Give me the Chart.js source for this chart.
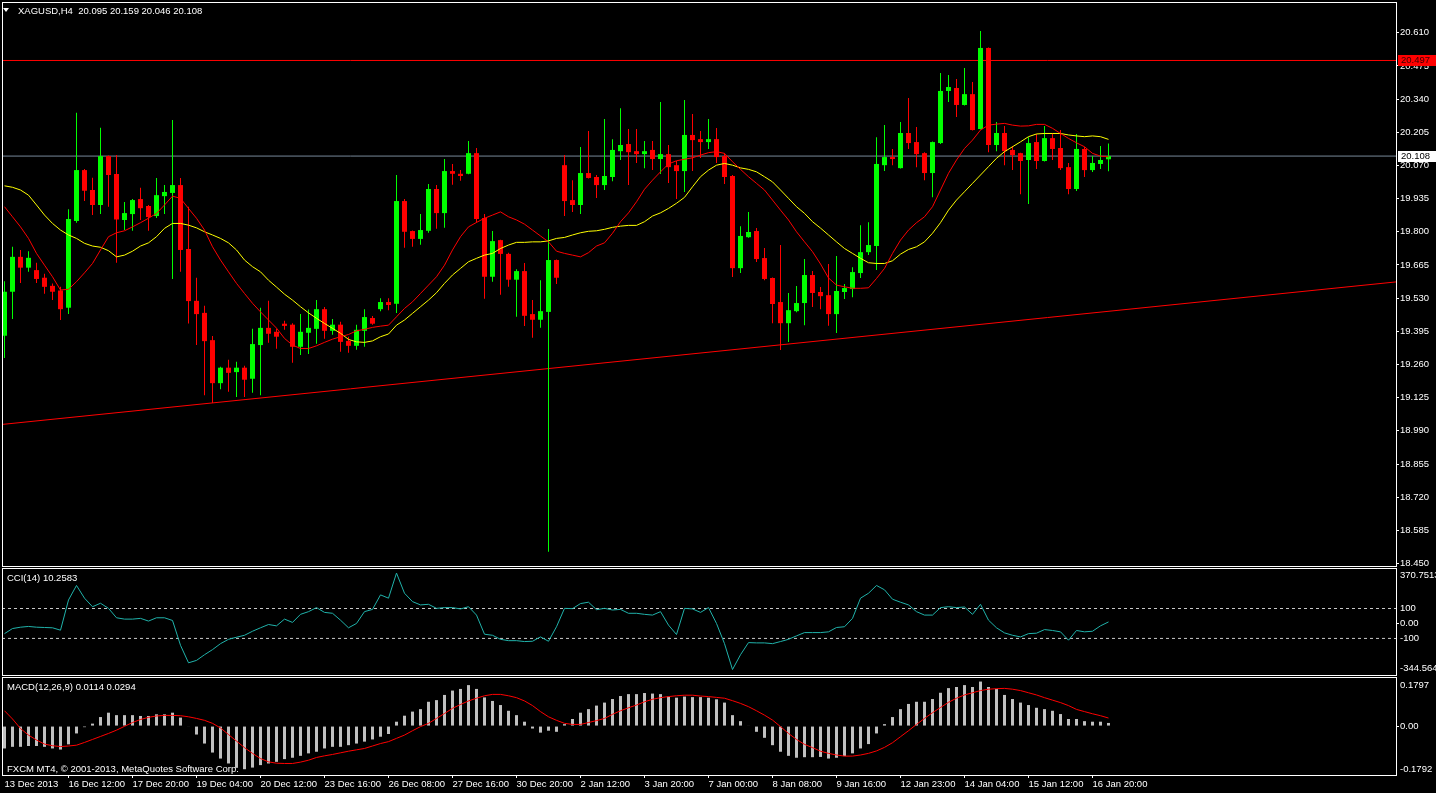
<!DOCTYPE html>
<html>
<head>
<meta charset="utf-8">
<title>XAGUSD,H4</title>
<script src="https://cdn.jsdelivr.net/npm/chart.js@4.4.1/dist/chart.umd.min.js"></script>
<style>
  html, body { margin: 0; padding: 0; background: #000; }
  body { position: relative; width: 1436px; height: 793px; overflow: hidden; font-family: "Liberation Sans", Arial, sans-serif; }
  canvas { position: absolute; left: 0; }
  .caption { position: absolute; color: #fff; font-size: 9.5px; line-height: 12px; white-space: pre; z-index: 2; }
  .arrow { position: absolute; left: 3px; top: 8px; width: 0; height: 0; border-left: 3px solid transparent; border-right: 3px solid transparent; border-top: 4px solid #fff; z-index: 2; }
</style>
</head>
<body>
<canvas id="priceChart" width="1436" height="568" style="top:0"></canvas>
<canvas id="cciChart" width="1436" height="111" style="top:566px"></canvas>
<canvas id="macdChart" width="1436" height="118" style="top:675px"></canvas>
<div class="arrow"></div>
<div class="caption" style="left:18px;top:5px">XAGUSD,H4  20.095 20.159 20.046 20.108</div>
<div class="caption" style="left:7px;top:572px">CCI(14) 10.2583</div>
<div class="caption" style="left:7px;top:681px">MACD(12,26,9) 0.0114 0.0294</div>
<div class="caption" style="left:7px;top:763px">FXCM MT4, © 2001-2013, MetaQuotes Software Corp.</div>
<script>
// H4 candles, one per bar index
const openPrices = [
  19.377,19.556,19.698,19.654,19.644,19.613,19.580,19.561,19.491,19.844,
  20.051,19.970,19.909,20.108,20.035,19.848,19.872,19.933,19.905,19.864,
  19.945,19.958,19.990,19.730,19.519,19.470,19.359,19.184,19.247,19.229,
  19.247,19.202,19.339,19.409,19.393,19.426,19.422,19.332,19.389,19.405,
  19.485,19.397,19.422,19.356,19.336,19.397,19.449,19.485,19.514,19.507,
  19.925,19.803,19.771,19.804,19.974,19.876,20.047,20.036,20.036,20.120,
  19.856,19.617,19.766,19.710,19.605,19.640,19.465,19.442,19.474,19.685,
  20.071,19.929,19.909,20.039,20.023,19.990,20.023,20.128,20.157,20.128,
  20.116,20.133,20.096,20.116,20.071,20.047,20.194,20.177,20.165,20.177,
  20.108,20.027,19.652,19.778,19.803,19.693,19.612,19.514,19.428,19.477,
  19.510,19.624,19.555,19.542,19.465,19.555,19.567,19.632,19.717,19.742,
  20.071,20.104,20.059,20.202,20.165,20.120,20.039,20.161,20.373,20.385,
  20.316,20.360,20.218,20.548,20.153,20.202,20.133,20.120,20.092,20.165,
  20.088,20.181,20.141,20.063,19.974,20.137,20.051,20.076,20.095
];
const highPrices = [
  19.599,19.739,19.726,19.721,19.674,19.629,19.590,19.576,19.892,20.284,
  20.055,20.020,20.223,20.110,20.112,19.921,19.933,19.979,19.909,20.019,
  19.990,20.255,20.019,19.902,19.613,19.499,19.376,19.251,19.279,19.271,
  19.255,19.405,19.491,19.519,19.405,19.438,19.428,19.465,19.484,19.522,
  19.494,19.445,19.434,19.373,19.422,19.485,19.457,19.530,19.530,20.031,
  19.933,19.805,19.872,19.994,19.990,20.096,20.076,20.051,20.169,20.141,
  19.872,19.803,19.768,19.715,19.648,19.673,19.522,19.603,19.811,19.687,
  20.112,20.010,20.145,20.210,20.031,20.259,20.177,20.303,20.218,20.218,
  20.169,20.169,20.328,20.153,20.088,20.336,20.279,20.210,20.259,20.222,
  20.120,20.031,19.823,19.880,19.815,19.734,19.614,19.746,19.551,19.579,
  19.689,19.640,19.575,19.669,19.701,19.587,19.656,19.827,19.839,20.185,
  20.234,20.137,20.247,20.344,20.226,20.124,20.167,20.446,20.438,20.422,
  20.466,20.409,20.617,20.550,20.247,20.230,20.149,20.122,20.185,20.198,
  20.230,20.202,20.214,20.080,20.198,20.145,20.108,20.149,20.159
];
const lowPrices = [
  19.286,19.445,19.592,19.637,19.592,19.548,19.522,19.441,19.465,19.837,
  19.925,19.868,19.872,19.902,19.674,19.807,19.804,19.848,19.804,19.856,
  19.872,19.608,19.637,19.427,19.339,19.135,19.103,19.159,19.149,19.128,
  19.128,19.145,19.135,19.348,19.324,19.401,19.267,19.299,19.303,19.344,
  19.365,19.381,19.312,19.308,19.320,19.332,19.422,19.477,19.481,19.470,
  19.735,19.739,19.747,19.796,19.812,19.816,19.991,20.008,20.034,19.837,
  19.527,19.597,19.544,19.576,19.454,19.417,19.369,19.409,18.498,19.588,
  19.864,19.880,19.872,20.017,19.937,19.970,20.006,20.092,19.990,20.080,
  20.059,20.051,20.035,19.998,19.933,19.962,20.047,20.100,20.137,20.080,
  19.994,19.616,19.632,19.776,19.677,19.603,19.428,19.319,19.351,19.473,
  19.420,19.494,19.485,19.418,19.388,19.526,19.534,19.612,19.705,19.644,
  20.047,20.071,20.057,20.137,20.063,20.010,19.941,20.157,20.328,20.267,
  20.314,20.212,20.216,20.124,20.128,20.071,20.051,19.953,19.913,20.055,
  20.086,20.092,20.051,19.953,19.966,20.023,20.043,20.055,20.046
];
const closePrices = [
  19.556,19.698,19.654,19.694,19.608,19.576,19.556,19.485,19.852,20.051,
  19.967,19.909,20.108,20.031,19.850,19.876,19.929,19.896,19.860,19.949,
  19.962,19.990,19.726,19.518,19.465,19.355,19.184,19.247,19.226,19.247,
  19.198,19.343,19.409,19.385,19.373,19.417,19.332,19.393,19.409,19.485,
  19.397,19.422,19.352,19.336,19.401,19.453,19.426,19.514,19.502,19.925,
  19.800,19.771,19.807,19.974,19.876,20.047,20.036,20.027,20.120,19.852,
  19.617,19.762,19.710,19.605,19.640,19.458,19.442,19.477,19.685,19.613,
  19.925,19.909,20.039,20.019,19.990,20.027,20.133,20.153,20.124,20.116,
  20.128,20.096,20.116,20.063,20.047,20.194,20.173,20.165,20.177,20.104,
  20.023,19.652,19.783,19.799,19.689,19.608,19.506,19.428,19.481,19.510,
  19.624,19.551,19.538,19.465,19.559,19.571,19.636,19.717,19.746,20.076,
  20.104,20.096,20.202,20.161,20.116,20.039,20.165,20.373,20.389,20.316,
  20.360,20.214,20.548,20.153,20.202,20.128,20.112,20.088,20.161,20.088,
  20.181,20.137,20.059,19.974,20.137,20.051,20.080,20.092,20.108
];

// moving averages (red = fast, yellow = slow)
const maFast = [
  19.902,19.861,19.820,19.773,19.712,19.664,19.617,19.563,19.566,19.597,
  19.633,19.671,19.726,19.780,19.796,19.804,19.820,19.837,19.855,19.875,
  19.909,19.945,19.936,19.895,19.855,19.807,19.739,19.685,19.637,19.590,
  19.549,19.509,19.474,19.441,19.408,19.366,19.339,19.325,19.325,19.336,
  19.350,19.363,19.373,19.382,19.397,19.403,19.411,19.416,19.420,19.454,
  19.488,19.515,19.549,19.583,19.617,19.664,19.726,19.780,19.820,19.838,
  19.855,19.868,19.881,19.861,19.848,19.831,19.807,19.783,19.759,19.721,
  19.712,19.705,19.698,19.715,19.742,19.755,19.794,19.841,19.877,19.922,
  19.973,20.010,20.044,20.076,20.089,20.095,20.101,20.112,20.122,20.126,
  20.119,20.085,20.054,20.024,19.997,19.970,19.929,19.888,19.848,19.800,
  19.759,19.719,19.669,19.612,19.583,19.576,19.570,19.570,19.572,19.610,
  19.651,19.712,19.766,19.807,19.837,19.861,19.902,19.970,20.038,20.092,
  20.139,20.173,20.214,20.234,20.238,20.241,20.234,20.230,20.231,20.237,
  20.237,20.221,20.200,20.180,20.162,20.146,20.119,20.108,20.105
];
const maSlow = [
  19.987,19.981,19.970,19.949,19.909,19.868,19.834,19.807,19.787,19.773,
  19.753,19.742,19.737,19.723,19.698,19.705,19.721,19.742,19.755,19.780,
  19.814,19.834,19.834,19.827,19.816,19.800,19.787,19.773,19.755,19.726,
  19.685,19.658,19.637,19.603,19.575,19.546,19.522,19.495,19.470,19.448,
  19.427,19.407,19.387,19.362,19.352,19.350,19.356,19.373,19.384,19.420,
  19.441,19.468,19.495,19.522,19.552,19.590,19.624,19.651,19.678,19.692,
  19.705,19.712,19.732,19.746,19.757,19.757,19.759,19.759,19.763,19.773,
  19.777,19.787,19.796,19.802,19.804,19.810,19.818,19.823,19.826,19.826,
  19.841,19.864,19.877,19.895,19.916,19.940,19.983,20.024,20.051,20.071,
  20.078,20.071,20.060,20.054,20.044,20.024,20.003,19.970,19.936,19.902,
  19.875,19.841,19.815,19.787,19.759,19.732,19.712,19.692,19.674,19.671,
  19.671,19.682,19.709,19.728,19.739,19.759,19.794,19.837,19.888,19.929,
  19.963,19.997,20.031,20.065,20.099,20.126,20.146,20.166,20.187,20.198,
  20.200,20.200,20.200,20.194,20.190,20.187,20.190,20.187,20.176
];

// rising trendline (bar index -> price) and horizontal levels
const trendX = [-0.3125, 173.9375];
const trendY = [19.016, 19.596];
const resistanceLevel = 20.497;
const bidLevel = 20.108;

const priceTicks = [20.610, 20.475, 20.340, 20.205, 20.070, 19.935, 19.800, 19.665, 19.530,
  19.395, 19.260, 19.125, 18.990, 18.855, 18.720, 18.585, 18.450];

// CCI(14)
const cciValues = [
  -68,-34,-25,-20,-25,-27,-29,-45,157,254,
  169,112,135,101,38,29,29,34,16,38,
  38,20,-146,-263,-247,-209,-175,-135,-106,-92,
  -79,-52,-29,-7,-16,29,7,61,79,106,
  74,68,22,-29,0,79,94,191,169,337,
  202,146,124,128,101,106,106,97,112,56,
  -72,-79,-106,-115,-115,-121,-119,-90,-119,-22,
  101,99,133,142,92,101,90,94,68,68,
  61,56,79,-11,-74,101,97,74,106,0,
  -135,-308,-209,-128,-130,-130,-135,-121,-106,-83,
  -61,-61,-61,-56,-27,-22,34,169,202,254,
  225,162,142,124,79,56,56,106,112,106,
  110,61,128,22,-29,-63,-79,-90,-68,-65,
  -41,-47,-56,-112,-47,-56,-52,-16,10.2583
];
const cciLevels = [100, -100];
const cciTickPos = [324, 100, 0, -100, -298];
const cciTickText = ['370.7513', '100', '0.00', '-100', '-344.564'];

// MACD(12,26,9)
const macdHist = [
  -0.082,-0.076,-0.076,-0.073,-0.073,-0.076,-0.082,-0.086,-0.067,-0.027,
  -0.004,0.009,0.033,0.049,0.040,0.040,0.040,0.037,0.037,0.043,
  0.043,0.049,0.031,-0.002,-0.031,-0.064,-0.097,-0.119,-0.137,-0.153,
  -0.158,-0.152,-0.143,-0.137,-0.131,-0.121,-0.116,-0.109,-0.100,-0.094,
  -0.082,-0.076,-0.076,-0.070,-0.064,-0.057,-0.049,-0.039,-0.029,0.016,
  0.038,0.053,0.062,0.089,0.095,0.114,0.130,0.136,0.150,0.136,
  0.105,0.092,0.077,0.056,0.040,0.016,-0.009,-0.024,-0.017,-0.021,
  0.007,0.026,0.049,0.062,0.075,0.086,0.099,0.110,0.117,0.117,
  0.121,0.119,0.117,0.108,0.104,0.108,0.106,0.106,0.104,0.098,
  0.086,0.040,0.018,0.002,-0.021,-0.043,-0.070,-0.094,-0.109,-0.116,
  -0.114,-0.114,-0.113,-0.119,-0.116,-0.110,-0.100,-0.082,-0.066,-0.027,
  0.007,0.033,0.062,0.081,0.089,0.089,0.099,0.122,0.139,0.143,
  0.150,0.143,0.163,0.143,0.136,0.114,0.099,0.086,0.077,0.067,
  0.062,0.056,0.044,0.026,0.026,0.018,0.016,0.016,0.0114
];
const macdSignal = [
  0.056,0.026,-0.009,-0.033,-0.051,-0.066,-0.072,-0.075,-0.073,-0.070,
  -0.060,-0.049,-0.038,-0.027,-0.015,-0.001,0.013,0.024,0.032,0.037,
  0.039,0.039,0.038,0.034,0.028,0.021,0.010,-0.007,-0.031,-0.055,
  -0.079,-0.100,-0.119,-0.131,-0.136,-0.137,-0.137,-0.132,-0.125,-0.115,
  -0.109,-0.104,-0.098,-0.092,-0.087,-0.082,-0.073,-0.064,-0.057,-0.045,
  -0.033,-0.017,-0.002,0.010,0.028,0.046,0.065,0.079,0.092,0.102,
  0.111,0.116,0.116,0.111,0.104,0.092,0.075,0.053,0.034,0.021,
  0.010,0.006,0.006,0.013,0.020,0.028,0.043,0.056,0.067,0.077,
  0.089,0.098,0.104,0.108,0.111,0.113,0.113,0.110,0.108,0.105,
  0.102,0.093,0.083,0.071,0.056,0.040,0.022,-0.002,-0.027,-0.049,
  -0.067,-0.079,-0.092,-0.100,-0.106,-0.110,-0.110,-0.106,-0.100,-0.091,
  -0.078,-0.061,-0.039,-0.017,0.006,0.028,0.049,0.068,0.087,0.102,
  0.114,0.122,0.130,0.135,0.137,0.138,0.135,0.130,0.122,0.114,
  0.104,0.095,0.086,0.075,0.061,0.053,0.045,0.038,0.0294
];
const macdTickPos = [0.150, 0, -0.157];
const macdTickText = ['0.1797', '0.00', '-0.1792'];

// time axis: a label every 8 bars
const timeTickIdx = [0, 8, 16, 24, 32, 40, 48, 56, 64, 72, 80, 88, 96, 104, 112, 120, 128, 136];
const timeLabels = ['13 Dec 2013', '16 Dec 12:00', '17 Dec 20:00', '19 Dec 04:00', '20 Dec 12:00',
  '23 Dec 16:00', '26 Dec 08:00', '27 Dec 16:00', '30 Dec 20:00', '2 Jan 12:00', '3 Jan 20:00',
  '7 Jan 00:00', '8 Jan 08:00', '9 Jan 16:00', '12 Jan 23:00', '14 Jan 04:00', '15 Jan 12:00',
  '16 Jan 20:00'];

const xMin = -0.3125;
const xMax = 173.9375;
const fontFamily = '"Liberation Sans", Arial, sans-serif';
const bullColor = '#00FF00';
const bearColor = '#FF0000';

Chart.defaults.font.family = fontFamily;
Chart.defaults.font.size = 9.5;
Chart.defaults.color = '#FFFFFF';

const pts = (vals) => vals.map((v, i) => ({ x: i, y: v }));
const flat = (v) => [{ x: xMin, y: v }, { x: xMax, y: v }];
const candleColors = closePrices.map((c, i) => (c >= openPrices[i] ? bullColor : bearColor));

// white frame round each panel, like the terminal window
const panelFrame = {
  id: 'panelFrame',
  afterDraw(chart) {
    const { ctx, chartArea: a } = chart;
    ctx.save();
    ctx.strokeStyle = '#FFFFFF';
    ctx.lineWidth = 1;
    ctx.strokeRect(Math.round(a.left) + 0.5, Math.round(a.top) + 0.5,
      Math.round(a.right - a.left), Math.round(a.bottom - a.top));
    ctx.restore();
  }
};

// price boxes on the right axis for the level line and the bid
const priceBoxes = {
  id: 'priceBoxes',
  afterDraw(chart) {
    const { ctx, chartArea: a, scales: { y } } = chart;
    ctx.save();
    ctx.font = '9.5px ' + fontFamily;
    ctx.textBaseline = 'middle';
    [[resistanceLevel, '#FF0000', '#3A0000'], [bidLevel, '#FFFFFF', '#000000']].forEach(([v, bg, fg]) => {
      const py = Math.round(y.getPixelForValue(v));
      ctx.fillStyle = bg;
      ctx.fillRect(a.right + 2, py - 5, chart.width - a.right - 2, 11);
      ctx.fillStyle = fg;
      ctx.fillText(v.toFixed(3), a.right + 5, py + 0.5);
    });
    ctx.restore();
  }
};

function xAxis(show) {
  const axis = {
    type: 'linear',
    min: xMin,
    max: xMax,
    offset: false,
    display: show,
    grid: { offset: false, drawOnChartArea: false },
    border: { display: false }
  };
  if (show) {
    axis.afterBuildTicks = (s) => { s.ticks = timeTickIdx.map((v) => ({ value: v })); };
    axis.afterFit = (s) => { s.height = 18; s.paddingLeft = 0; s.paddingRight = 0; };
    axis.ticks = {
      autoSkip: false, maxRotation: 0, minRotation: 0, align: 'start', padding: 1,
      color: '#FFFFFF', callback: (v, i) => timeLabels[i]
    };
    axis.grid = {
      offset: false, drawOnChartArea: false, tickLength: 3,
      color: (c) => (c.index === 0 ? 'rgba(0,0,0,0)' : '#FFFFFF')
    };
  }
  return axis;
}

// markOnlyZero: the indicator panels only carry a tick mark at 0
function yAxis(min, max, tickPos, tickText, markOnlyZero) {
  return {
    type: 'linear',
    position: 'right',
    min: min,
    max: max,
    bounds: 'data',
    afterBuildTicks: (s) => { s.ticks = tickPos.map((v) => ({ value: v })); },
    afterFit: (s) => { s.width = 40; s.paddingTop = 0; s.paddingBottom = 0; },
    ticks: { autoSkip: false, padding: 1, color: '#FFFFFF', callback: (v, i) => tickText[i] },
    grid: {
      drawOnChartArea: false, tickLength: 3,
      color: (c) => (!markOnlyZero || (c.tick && c.tick.value === 0) ? '#FFFFFF' : 'rgba(0,0,0,0)')
    },
    border: { display: false }
  };
}

function baseOptions(padTop, padBottom, scales) {
  return {
    responsive: false,
    animation: false,
    events: [],
    layout: { padding: { left: 2, right: 0, top: padTop, bottom: padBottom } },
    plugins: { legend: { display: false }, tooltip: { enabled: false } },
    scales: scales
  };
}

const lineStyle = { type: 'line', borderWidth: 1, pointRadius: 0, tension: 0, fill: false };

new Chart(document.getElementById('priceChart'), {
  type: 'bar',
  data: {
    datasets: [
      { ...lineStyle, label: 'MA fast', data: pts(maFast), borderColor: '#FF0000', order: 0 },
      { ...lineStyle, label: 'MA slow', data: pts(maSlow), borderColor: '#FFFF00', order: 0 },
      {
        label: 'Body', data: openPrices.map((o, i) => ({ x: i, y: [o, closePrices[i]] })),
        backgroundColor: candleColors, barThickness: 5, minBarLength: 1, grouped: false,
        inflateAmount: 0, order: 1
      },
      {
        label: 'Wick', data: lowPrices.map((l, i) => ({ x: i, y: [l, highPrices[i]] })),
        backgroundColor: candleColors, barThickness: 1, grouped: false, inflateAmount: 0, order: 2
      },
      { ...lineStyle, label: 'Trend', data: trendX.map((x, i) => ({ x: x, y: trendY[i] })), borderColor: '#FF0000', order: 3 },
      { ...lineStyle, label: 'Level', data: flat(resistanceLevel), borderColor: '#FF0000', order: 3 },
      { ...lineStyle, label: 'Bid', data: flat(bidLevel), borderColor: '#778899', order: 3 }
    ]
  },
  options: baseOptions(2, 2, {
    x: xAxis(false),
    y: yAxis(18.44, 20.735, priceTicks, priceTicks.map((v) => v.toFixed(3)), false)
  }),
  plugins: [panelFrame, priceBoxes]
});

new Chart(document.getElementById('cciChart'), {
  type: 'line',
  data: {
    datasets: [
      { ...lineStyle, label: 'CCI', data: pts(cciValues), borderColor: '#20B2AA', order: 0 },
      ...cciLevels.map((v) => ({
        ...lineStyle, label: 'Level ' + v, data: flat(v), borderColor: '#C8C8C8', borderDash: [3, 3], order: 1
      }))
    ]
  },
  options: baseOptions(2, 2, {
    x: xAxis(false),
    y: yAxis(-344.564, 370.7513, cciTickPos, cciTickText, true)
  }),
  plugins: [panelFrame]
});

new Chart(document.getElementById('macdChart'), {
  type: 'bar',
  data: {
    datasets: [
      { ...lineStyle, label: 'Signal', data: pts(macdSignal), borderColor: '#FF0000', order: 0 },
      {
        label: 'MACD', data: pts(macdHist), backgroundColor: '#C0C0C0', barThickness: 3,
        grouped: false, inflateAmount: 0, order: 1
      }
    ]
  },
  options: baseOptions(2, 0, {
    x: xAxis(true),
    y: yAxis(-0.1792, 0.1797, macdTickPos, macdTickText, true)
  }),
  plugins: [panelFrame]
});
</script>
</body>
</html>
